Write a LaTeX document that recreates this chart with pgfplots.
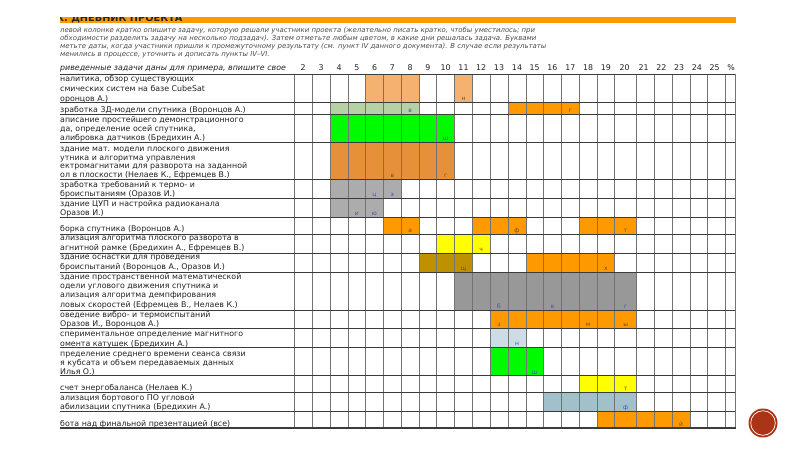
\documentclass[border=0pt]{standalone}
\usepackage{fontspec}
\setmainfont{DejaVu Sans}
\usepackage{pgfplots}
\pgfplotsset{compat=1.18}
\definecolor{txt}{RGB}{35,35,35}
\definecolor{note}{RGB}{75,75,75}
\definecolor{hdr}{RGB}{255,153,0}
\definecolor{lorange}{RGB}{244,177,112}
\definecolor{lgreen}{RGB}{182,209,163}
\definecolor{bgreen}{RGB}{0,250,0}
\definecolor{morange}{RGB}{230,145,58}
\definecolor{grayA}{RGB}{172,172,172}
\definecolor{orange}{RGB}{255,153,0}
\definecolor{yel}{RGB}{255,255,0}
\definecolor{gold}{RGB}{191,144,0}
\definecolor{grayB}{RGB}{152,152,152}
\definecolor{lblue}{RGB}{206,220,229}
\definecolor{sblue}{RGB}{162,192,202}
\definecolor{vline}{RGB}{115,115,115}
\definecolor{hline}{RGB}{60,60,60}
\definecolor{mkblue}{RGB}{60,85,190}
\definecolor{mkbrown}{RGB}{110,80,40}
\definecolor{logo}{RGB}{172,52,22}
\newcommand{\tf}{\fontsize{7.9}{9}\selectfont}
\newcommand{\nf}{\fontsize{6.95}{8}\selectfont\itshape}
\newcommand{\lf}{\fontsize{6}{7}\selectfont}
% one coloured block: x0 x1 y0 y1 colour
\newcommand{\cell}[5]{\addplot[fill=#5, draw=none] coordinates {(#1,#3)(#2,#3)(#2,#4)(#1,#4)} --cycle;}
% one line of task text: y(centre) text
\newcommand{\tl}[2]{\node[anchor=base west, inner sep=0pt, font=\tf, text=txt] at (axis cs:60,#1+2.7) {#2};}
% column number: x text
\newcommand{\cn}[2]{\node[anchor=base, inner sep=0pt, font=\tf, text=txt] at (axis cs:#1,71) {#2};}
% day letter: x y(row bottom) letter colour
\newcommand{\mk}[4]{\node[anchor=base, inner sep=0pt, font=\lf, text=#4] at (axis cs:#1,#2-1.4) {#3};}

\begin{document}
\begin{tikzpicture}
\begin{axis}[scale only axis, width=800bp, height=449bp,
  xmin=0, xmax=800, ymin=0, ymax=449, y dir=reverse,
  hide axis, clip=false]
\fill[white] (axis cs:0,0) rectangle (axis cs:800,449);

% title bar
\cell{60}{736}{17.3}{23.4}{hdr}
\node[anchor=base west, inner sep=0pt, font=\fontsize{9.8}{10}\selectfont\bfseries, text=black!85] at (axis cs:56,21.8) {К. ДНЕВНИК ПРОЕКТА};
\fill[white] (axis cs:0,0) rectangle (axis cs:800,17.3);

% instructions
\node[anchor=base west, inner sep=0pt, font=\nf, text=note] at (axis cs:60,32.3) {левой колонке кратко опишите задачу, которую решали участники проекта (желательно писать кратко, чтобы уместилось; при};
\node[anchor=base west, inner sep=0pt, font=\nf, text=note] at (axis cs:60,40.8) {обходимости разделить задачу на несколько подзадач). Затем отметьте любым цветом, в какие дни решалась задача. Буквами};
\node[anchor=base west, inner sep=0pt, font=\nf, text=note] at (axis cs:60,49) {метьте даты, когда участники пришли к промежуточному результату (см. пункт IV данного документа). В случае если результаты};
\node[anchor=base west, inner sep=0pt, font=\nf, text=note] at (axis cs:60,56.8) {менились в процессе, уточнить и дописать пункты IV–VI.};

% header row
\node[anchor=base west, inner sep=0pt, font=\fontsize{7.9}{9}\selectfont\itshape, text=txt] at (axis cs:60,71) {риведенные задачи даны для примера, впишите свое};
\cn{303}{2}\cn{321}{3}\cn{339}{4}\cn{356.8}{5}\cn{374.5}{6}\cn{392.3}{7}
\cn{410.2}{8}\cn{427.8}{9}\cn{445.7}{10}\cn{463.5}{11}\cn{481.2}{12}\cn{499}{13}
\cn{517}{14}\cn{534.7}{15}\cn{552.3}{16}\cn{570.3}{17}\cn{588.2}{18}\cn{605.8}{19}
\cn{624.5}{20}\cn{643.5}{21}\cn{661.3}{22}\cn{679}{23}\cn{696.8}{24}\cn{714.5}{25}
\cn{731}{\%}

% coloured day blocks
\cell{365.7}{419}{74}{102.3}{lorange}
\cell{454.7}{472.3}{74}{102.3}{lorange}
\cell{330}{419}{102.3}{114.3}{lgreen}
\cell{508}{579.3}{102.3}{114.3}{orange}
\cell{330}{454.7}{114.3}{142.3}{bgreen}
\cell{330}{454.7}{142.3}{179.3}{morange}
\cell{330}{401.3}{179.3}{198.3}{grayA}
\cell{330}{383.3}{198.3}{217.3}{grayA}
\cell{383.3}{419}{217.3}{234.3}{orange}
\cell{472.3}{526}{217.3}{234.3}{orange}
\cell{579.3}{636.7}{217.3}{234.3}{orange}
\cell{436.7}{490}{234.3}{253.3}{yel}
\cell{419}{472.3}{253.3}{272.3}{gold}
\cell{526}{614.7}{253.3}{272.3}{orange}
\cell{454.7}{636.7}{272.3}{310}{grayB}
\cell{490}{636.7}{310}{328.3}{orange}
\cell{490}{526}{328.3}{347.3}{lblue}
\cell{490}{543.3}{347.3}{375.7}{bgreen}
\cell{579.3}{636.7}{375.7}{392.3}{yel}
\cell{543.3}{636.7}{392.3}{411}{sblue}
\cell{597}{690}{411}{428}{orange}

% grid
\pgfplotsinvokeforeach{294,312,330,348,365.7,383.3,401.3,419,436.7,454.7,472.3,490,508,526,543.3,561.3,579.3,597,614.7,636.7,654.3,672.3,690,707.7,725.7,735}{
  \draw[vline, line width=0.8bp] (axis cs:#1,74) -- (axis cs:#1,428);
}
\pgfplotsinvokeforeach{74,102.3,114.3,142.3,179.3,198.3,217.3,234.3,253.3,272.3,310,328.3,347.3,375.7,392.3,411}{
  \draw[hline, line width=0.8bp] (axis cs:60,#1) -- (axis cs:735,#1);
}
\draw[hline, line width=2.4bp] (axis cs:60,428.2) -- (axis cs:736,428.2);

% day letters
\mk{463.5}{102.3}{н}{mkbrown}
\mk{410.2}{114.3}{в}{mkblue}
\mk{570.3}{114.3}{г}{mkbrown}
\mk{445.7}{142.3}{ш}{mkblue}
\mk{392.3}{179.3}{в}{mkbrown}
\mk{445.7}{179.3}{г}{mkbrown}
\mk{374.5}{198.3}{ц}{mkblue}
\mk{392.3}{198.3}{э}{mkblue}
\mk{356.8}{217.3}{и}{mkblue}
\mk{374.5}{217.3}{ю}{mkblue}
\mk{410.2}{234.3}{а}{mkbrown}
\mk{517}{234.3}{ф}{mkbrown}
\mk{625.7}{234.3}{т}{mkbrown}
\mk{481.2}{253.3}{ч}{mkbrown}
\mk{463.5}{272.3}{щ}{mkbrown}
\mk{605.8}{272.3}{х}{mkbrown}
\mk{499}{310}{б}{mkblue}
\mk{552.3}{310}{в}{mkblue}
\mk{625.7}{310}{г}{mkblue}
\mk{499}{328.3}{з}{mkbrown}
\mk{588.2}{328.3}{м}{mkbrown}
\mk{625.7}{328.3}{ы}{mkbrown}
\mk{517}{347.3}{н}{mkblue}
\mk{534.7}{375.7}{ш}{mkblue}
\mk{625.7}{392.3}{т}{mkbrown}
\mk{625.7}{411}{ф}{mkblue}
\mk{681}{428}{й}{mkbrown}

% task texts
\tl{79}{налитика, обзор существующих}
\tl{89}{смических систем на базе CubeSat}
\tl{98.7}{оронцов А.)}
\tl{109.3}{зработка 3Д-модели спутника (Воронцов А.)}
\tl{119.3}{аписание простейшего демонстрационного}
\tl{128.3}{да, определение осей спутника,}
\tl{137.7}{алибровка датчиков (Бредихин А.)}
\tl{148.3}{здание мат. модели плоского движения}
\tl{157.3}{утника и алгоритма управления}
\tl{166}{ектромагнитами для разворота на заданной}
\tl{175}{ол в плоскости (Нелаев К., Ефремцев В.)}
\tl{185}{зработка требований к термо- и}
\tl{194}{броиспытаниям (Оразов И.)}
\tl{204}{здание ЦУП и настройка радиоканала}
\tl{213}{Оразов И.)}
\tl{229}{борка спутника (Воронцов А.)}
\tl{238}{ализация алгоритма плоского разворота в}
\tl{247.3}{агнитной рамке (Бредихин А., Ефремцев В.)}
\tl{257}{здание оснастки для проведения}
\tl{266.3}{броиспытаний (Воронцов А., Оразов И.)}
\tl{276.7}{здание пространственной математической}
\tl{286}{одели углового движения спутника и}
\tl{295}{ализация алгоритма демпфирования}
\tl{305}{ловых скоростей (Ефремцев В., Нелаев К.)}
\tl{314.7}{оведение вибро- и термоиспытаний}
\tl{324}{Оразов И., Воронцов А.)}
\tl{334}{спериментальное определение магнитного}
\tl{344}{омента катушек (Бредихин А.)}
\tl{353.3}{пределение среднего времени сеанса связи}
\tl{362.7}{я кубсата и объем передаваемых данных}
\tl{371.3}{Илья О.)}
\tl{387.3}{счет энергобаланса (Нелаев К.)}
\tl{397.3}{ализация бортового ПО угловой}
\tl{406.7}{абилизации спутника (Бредихин А.)}
\tl{423.3}{бота над финальной презентацией (все)}

% left crop edge
\fill[white] (axis cs:0,0) rectangle (axis cs:60,449);

% slide logo
\fill[logo] (axis cs:763,423) circle[radius=14.5bp];
\draw[white, line width=0.7bp] (axis cs:763,423) circle[radius=12.3bp];
\end{axis}
\end{tikzpicture}
\end{document}
